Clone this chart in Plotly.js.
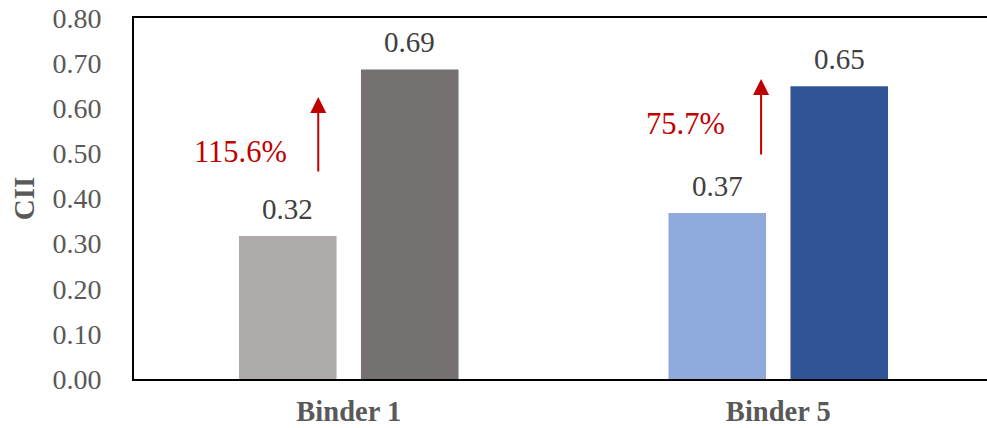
<!DOCTYPE html>
<html>
<head>
<meta charset="utf-8">
<script src="https://cdn.plot.ly/plotly-3.0.1.min.js"></script>
<style>html,body{margin:0;padding:0;background:#fff;}#chart{width:987px;height:428px;}</style>
</head>
<body>
<div id="chart"></div>
<script>
var categories = ['Binder 1', 'Binder 5'];
var lowValues = [0.317, 0.368];
var highValues = [0.686, 0.649];
var lowColors = ['#AFABAB', '#8FAADC'];
var highColors = ['#767171', '#2F5597'];
var increaseLabels = ['115.6%', '75.7%'];
var yTicks = [0, 0.1, 0.2, 0.3, 0.4, 0.5, 0.6, 0.7, 0.8];

var serif = 'Liberation Serif, Times New Roman, serif';
var traceOffset = 0.142;

var traces = [
  {type: 'bar', x: categories, y: lowValues, marker: {color: lowColors}, hoverinfo: 'none'},
  {type: 'bar', x: categories, y: highValues, marker: {color: highColors}, hoverinfo: 'none'}
];

var annotations = [];
categories.forEach(function (c, i) {
  annotations.push({x: i - traceOffset, y: lowValues[i], xref: 'x', yref: 'y', text: lowValues[i].toFixed(2),
    showarrow: false, yanchor: 'middle', yshift: 27, font: {family: serif, size: 29, color: '#404040'}});
  annotations.push({x: i + traceOffset, y: highValues[i], xref: 'x', yref: 'y', text: highValues[i].toFixed(2),
    showarrow: false, yanchor: 'middle', yshift: 27, font: {family: serif, size: 29, color: '#404040'}});
});
// arrows and percent labels
var arrowX = [-0.071, 0.960];
var arrowTail = [0.4565, 0.494];
var arrowTip = [0.625, 0.665];
var pctX = [-0.253, -0.217];
var pctY = [0.504, 0.565];
categories.forEach(function (c, i) {
  annotations.push({x: arrowX[i], y: arrowTip[i], ax: arrowX[i], ay: arrowTail[i], xref: 'x', yref: 'y',
    axref: 'x', ayref: 'y', text: '', showarrow: true, arrowhead: 2, arrowsize: 1.6, arrowwidth: 2,
    arrowcolor: '#C00000', standoff: 0, startstandoff: 0});
  annotations.push({x: i + pctX[i], y: pctY[i], xref: 'x', yref: 'y', text: increaseLabels[i], showarrow: false,
    xanchor: 'center', yanchor: 'middle', font: {family: serif, size: 30.5, color: '#C00000'}});
});

var layout = {
  width: 987, height: 428,
  margin: {l: 134, r: 0, t: 18, b: 49, pad: 0},
  paper_bgcolor: '#ffffff', plot_bgcolor: '#ffffff',
  showlegend: false,
  barmode: 'group', bargap: 0.432, bargroupgap: 0.2,
  font: {family: serif},
  xaxis: {
    type: 'category', range: [-0.5, 1.486], showgrid: false, zeroline: false,
    showline: true, linecolor: '#000000', linewidth: 2, mirror: true,
    ticks: '', ticklabelstandoff: 6,
    tickfont: {family: serif, size: 28.5, color: '#595959', weight: 'bold'}
  },
  yaxis: {
    range: [0, 0.8], tickvals: yTicks, ticktext: yTicks.map(function (v) { return v.toFixed(2); }),
    showgrid: false, zeroline: false, showline: true, linecolor: '#000000', linewidth: 2,
    ticks: '', ticklabelstandoff: 25,
    tickfont: {family: serif, size: 28, color: '#595959'},
    title: {text: 'CII', standoff: 9, font: {family: serif, size: 29, color: '#595959', weight: 'bold'}}
  },
  annotations: annotations
};

Plotly.newPlot('chart', traces, layout, {staticPlot: true, displayModeBar: false});
</script>
</body>
</html>
